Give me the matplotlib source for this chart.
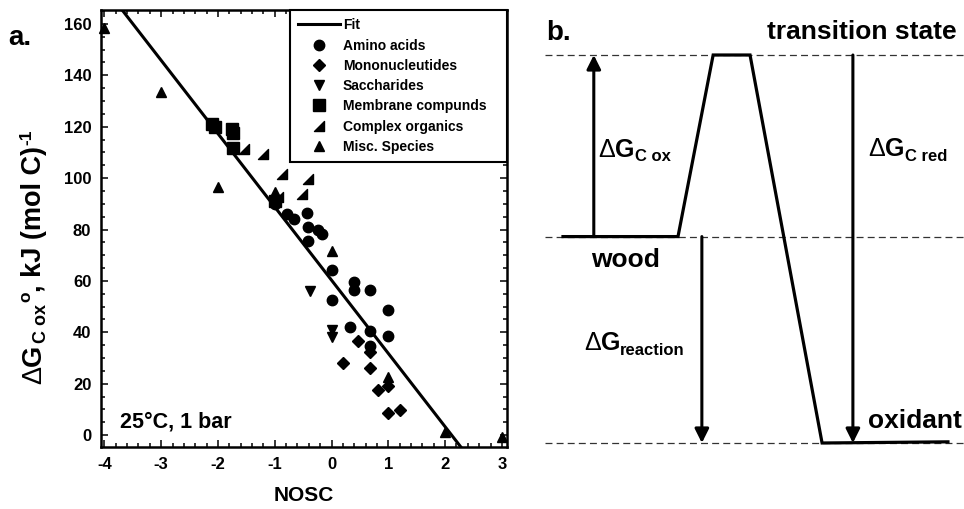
import matplotlib
matplotlib.use("Agg")
import matplotlib.pyplot as plt
from matplotlib.path import Path
from matplotlib.lines import Line2D
from matplotlib.ticker import MultipleLocator
import numpy as np

# ---------------- data: panel a ----------------
fit_intercept = 60.3
fit_slope = -28.5

amino_x = [-1.0, -0.78, -0.66, -0.43, -0.41, -0.23, -0.17, -0.41, 0.0, 0.40, 0.40, 0.67, 0.0, 1.0, 0.33, 0.67, 1.0, 0.67]
amino_y = [90.0, 86.1, 84.1, 86.5, 80.9, 80.0, 78.3, 75.7, 64.4, 59.6, 56.6, 56.4, 52.5, 48.6, 41.9, 40.6, 38.5, 34.7]

mono_x = [0.46, 0.67, 0.21, 0.67, 1.0, 0.81, 1.0, 1.21]
mono_y = [36.6, 32.4, 28.2, 26.2, 19.3, 17.6, 8.8, 9.8]

sacch_x = [-0.38, 0.0, 0.0]
sacch_y = [56.1, 41.1, 38.3]

membrane_x = [-2.1, -2.05, -1.76, -1.73, -1.73, -1.0]
membrane_y = [121.0, 120.0, 119.0, 117.5, 111.9, 91.0]

complex_x = [-1.55, -1.20, -0.875, -0.41, -0.52, -0.95]
complex_y = [111.3, 109.3, 101.6, 99.6, 93.8, 92.5]

misc_x = [-4, -3, -2, -1, 0, 1, 2, 3]
misc_y = [158.5, 133.5, 96.5, 94.5, 71.8, 22.8, 1.2, -0.6]

legend_labels = ["Fit", "Amino acids", "Mononucleutides", "Saccharides",
                 "Membrane compunds", "Complex organics", "Misc. Species"]

x_ticks = [-4, -3, -2, -1, 0, 1, 2, 3]
y_ticks = [0, 20, 40, 60, 80, 100, 120, 140, 160]

# ---------------- data: panel b (arbitrary energy units) ----------------
E_ts = 100.0
E_wood = 53.2
E_oxidant = 0.0
path_coord = [0.76, 3.41, 4.22, 5.07, 6.73, 9.63]
path_energy = [E_wood, E_wood, E_ts, E_ts, E_oxidant, 0.3]
level_energies = [E_ts, E_wood, E_oxidant]
arrow_ox = (1.47, E_wood, E_ts)
arrow_reaction = (3.96, E_wood, E_oxidant)
arrow_red = (7.44, E_ts, E_oxidant)

# ---------------- style ----------------
plt.rcParams['font.family'] = ['Liberation Sans', 'DejaVu Sans']
plt.rcParams['font.weight'] = 'bold'
plt.rcParams['axes.unicode_minus'] = False
plt.rcParams['lines.scale_dashes'] = False

W, H = 964, 509
fig = plt.figure(figsize=(W / 100, H / 100), dpi=100)

# right-triangle marker (complex organics)
rtri = Path([(-1, -1), (1, -1), (1, 1), (-1, -1)],
            [Path.MOVETO, Path.LINETO, Path.LINETO, Path.CLOSEPOLY])

# ---------------- panel a ----------------
ax = fig.add_axes([101 / W, 1 - 447 / H, 406 / W, 437 / H])
ax.set_xlim(-4.06, 3.09)
ax.set_ylim(-4.6, 165.4)

xf = np.array([-4.06, 3.09])
ax.plot(xf, fit_intercept + fit_slope * xf, color='k', lw=2.2, zorder=2)

ms = 7.5
ms_d = 6.5
ms_s = 9
ax.plot(amino_x, amino_y, 'o', color='k', ms=ms, zorder=3)
ax.plot(mono_x, mono_y, 'D', color='k', ms=ms_d, zorder=3)
ax.plot(sacch_x, sacch_y, 'v', color='k', ms=ms, zorder=3)
ax.plot(membrane_x, membrane_y, 's', color='k', ms=ms_s, zorder=3)
ax.plot(complex_x, complex_y, marker=rtri, ls='', color='k', ms=ms, zorder=3)
ax.plot(misc_x, misc_y, '^', color='k', ms=ms, zorder=3, clip_on=False)

ax.set_xticks(x_ticks)
ax.set_yticks(y_ticks)
ax.xaxis.set_minor_locator(MultipleLocator(0.2))
ax.yaxis.set_minor_locator(MultipleLocator(5))
ax.tick_params(which='both', direction='in', top=True, right=True, width=1.1,
               labelsize=12)
ax.tick_params(which='major', length=5)
ax.tick_params(which='minor', length=3)
ax.tick_params(axis='x', pad=7)
ax.tick_params(axis='y', pad=7)
for lab in ax.get_xticklabels() + ax.get_yticklabels():
    lab.set_fontweight('bold')
for sp in ax.spines.values():
    sp.set_linewidth(1.8)

ax.set_xlabel('NOSC', fontsize=15, fontweight='bold', labelpad=10)

# y label built from pieces (rotated, reading bottom to top)
rk = dict(rotation=90, ha='right', va='bottom')
y1 = fig.text(47 / W, 1 - 384 / H, 'Δ', fontsize=19.5, fontweight='normal', **rk)
y2 = ax.annotate('G', xy=(1, 1), xycoords=y1, fontsize=19.5, fontweight='bold',
                 annotation_clip=False, **rk)
y3 = ax.annotate('C ox', xy=(1, 1), xycoords=y2, xytext=(2.5, 1),
                 textcoords='offset points', fontsize=13, fontweight='bold',
                 annotation_clip=False, **rk)
y4 = ax.annotate('o', xy=(1, 1), xycoords=y3, xytext=(-12, 1.5),
                 textcoords='offset points', fontsize=12.5, fontweight='bold',
                 annotation_clip=False, **rk)
y5 = ax.annotate(', kJ (mol C)', xy=(1, 1), xycoords=(y2, y4), xytext=(0, 0),
                 textcoords='offset points', fontsize=19.5, fontweight='bold',
                 annotation_clip=False, **rk)
y6 = ax.annotate('-1', xy=(1, 1), xycoords=y5, xytext=(-8.8, 0.5),
                 textcoords='offset points', fontsize=12.5, fontweight='bold',
                 annotation_clip=False, **rk)

ax.text(0.047, 0.058, '25°C, 1 bar', transform=ax.transAxes, fontsize=15.5,
        fontweight='bold', ha='left', va='center')

handles = [
    Line2D([], [], color='k', lw=2.2),
    Line2D([], [], marker='o', ls='', color='k', ms=ms),
    Line2D([], [], marker='D', ls='', color='k', ms=ms_d),
    Line2D([], [], marker='v', ls='', color='k', ms=ms),
    Line2D([], [], marker='s', ls='', color='k', ms=ms_s - 1),
    Line2D([], [], marker=rtri, ls='', color='k', ms=ms),
    Line2D([], [], marker='^', ls='', color='k', ms=ms),
]
x0 = (290 - 101) / 406
leg = ax.legend(handles, legend_labels, loc='upper right',
                bbox_to_anchor=(x0, 0.0, 1 - x0, 1.0), mode='expand',
                borderaxespad=0, fancybox=False, framealpha=1,
                edgecolor='k', prop={'size': 10, 'weight': 'bold'},
                handlelength=3.0, handletextpad=0.2, labelspacing=0.45,
                borderpad=0.6)
leg.get_frame().set_linewidth(1.5)

fig.text(8 / W, 1 - 38 / H, 'a.', fontsize=20, fontweight='bold',
         ha='left', va='center')

# ---------------- panel b ----------------
bx = fig.add_axes([530 / W, 0, 434 / W, 1])
bx.set_xlim(0, 10)
bx.set_ylim((443 - 509) / 3.88, 443 / 3.88)
bx.axis('off')

for e in level_energies:
    bx.plot([0.35, 10], [e, e], color='#333333', lw=0.9, ls=(0, (5, 3)), zorder=1)

bx.plot(path_coord, path_energy, color='k', lw=2.3, solid_joinstyle='miter', zorder=2)

akw = dict(arrowstyle='-|>,head_length=0.6,head_width=0.3', color='k', lw=2.2,
           shrinkA=0, shrinkB=0, mutation_scale=14)
for (xa, e0, e1) in (arrow_ox, arrow_reaction, arrow_red):
    bx.annotate('', xy=(xa, e1), xytext=(xa, e0), arrowprops=akw, zorder=3)


def delta_label(axx, x, y, sub, size=18, subsize=12):
    t1 = axx.text(x, y, 'Δ', fontsize=size, fontweight='normal',
                  ha='left', va='baseline')
    t2 = axx.annotate('G', xy=(1, 0), xycoords=t1, fontsize=size,
                      fontweight='bold', ha='left', va='bottom')
    axx.annotate(sub, xy=(1, 0), xycoords=t2, xytext=(0.3, -2),
                 textcoords='offset points', fontsize=subsize,
                 fontweight='bold', ha='left', va='bottom')


delta_label(bx, 1.57, 73.8, 'C ox')
delta_label(bx, 7.79, 74.0, 'C red')
delta_label(bx, 1.24, 24.0, 'reaction')

bx.text(0.37, 105.7, 'b.', fontsize=20, fontweight='bold', ha='left', va='center')
bx.text(7.65, 105.9, 'transition state', fontsize=19, fontweight='bold',
        ha='center', va='center')
bx.text(2.19, 47.2, 'wood', fontsize=19, fontweight='bold', ha='center', va='center')
bx.text(7.79, 5.7, 'oxidant', fontsize=19, fontweight='bold', ha='left', va='center')

fig.savefig('out.png', dpi=100)
